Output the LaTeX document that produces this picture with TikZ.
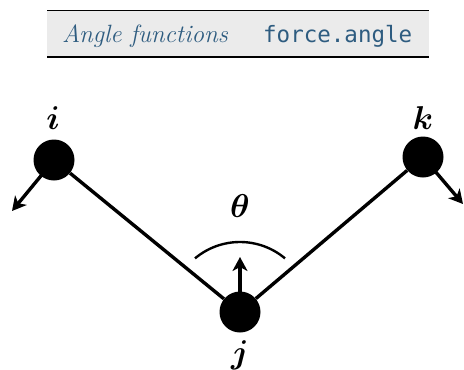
\documentclass[tikz,border=0pt]{standalone}
\usepackage{fontspec}
\usepackage{bm}
\setmonofont{DejaVu Sans Mono}
\usetikzlibrary{arrows.meta,calc}
\definecolor{hdrtext}{RGB}{46,92,128}
\definecolor{hdrbg}{RGB}{235,235,235}
\begin{document}
\begin{tikzpicture}[x=1pt,y=-1pt,
  atom/.style={circle,fill=black,minimum size=41pt,inner sep=0pt},
  bond/.style={line width=3.4pt},
  force/.style={line width=3.4pt,-{Stealth[length=14pt,width=15pt,inset=4pt]}},
  lbl/.style={font=\normalsize,inner sep=0pt,scale=3.3}]
\useasboundingbox (0,0) rectangle (464,370);
% header
\fill[hdrbg] (47,11) rectangle (429,57);
\draw[line width=1.4pt] (47,10.5) -- (429,10.5);
\draw[line width=2.2pt] (47,57) -- (429,57);
\node[anchor=base west,inner sep=0pt,text=hdrtext,font=\fontsize{25}{28}\selectfont\itshape] (t1) at (62,42) {Angle functions};
\node[anchor=base west,inner sep=0pt,text=hdrtext,font=\fontsize{22.5}{26}\selectfont\ttfamily] (t2) at (263,42) {force.angle};
% atoms
\node[atom] (ai) at (54,160) {};
\node[atom] (ak) at (423,157) {};
\node[atom] (aj) at (240,312) {};
\node[lbl] (li) at (53,118) {$\bm{i}$};
\node[lbl] (lk) at (423,118) {$\bm{k}$};
\node[lbl] (lj) at (240,355) {$\bm{j}$};
\node[lbl] (th) at (240,206) {$\bm{\theta}$};
% bonds
\draw[bond] (ai) -- (aj);
\draw[bond] (aj) -- (ak);
% arc
\draw[line width=2.4pt] ($(aj.center)+(-50:70)$) arc[start angle=-50,end angle=-130,radius=70];
% forces
\coordinate (fi) at (12,211);
\coordinate (fk) at (463,204);
\coordinate (fj) at (240,257);
\draw[force] (ai.center) -- (fi);
\draw[force] (ak.center) -- (fk);
\draw[force] (aj.center) -- (fj);
\end{tikzpicture}
\end{document}
